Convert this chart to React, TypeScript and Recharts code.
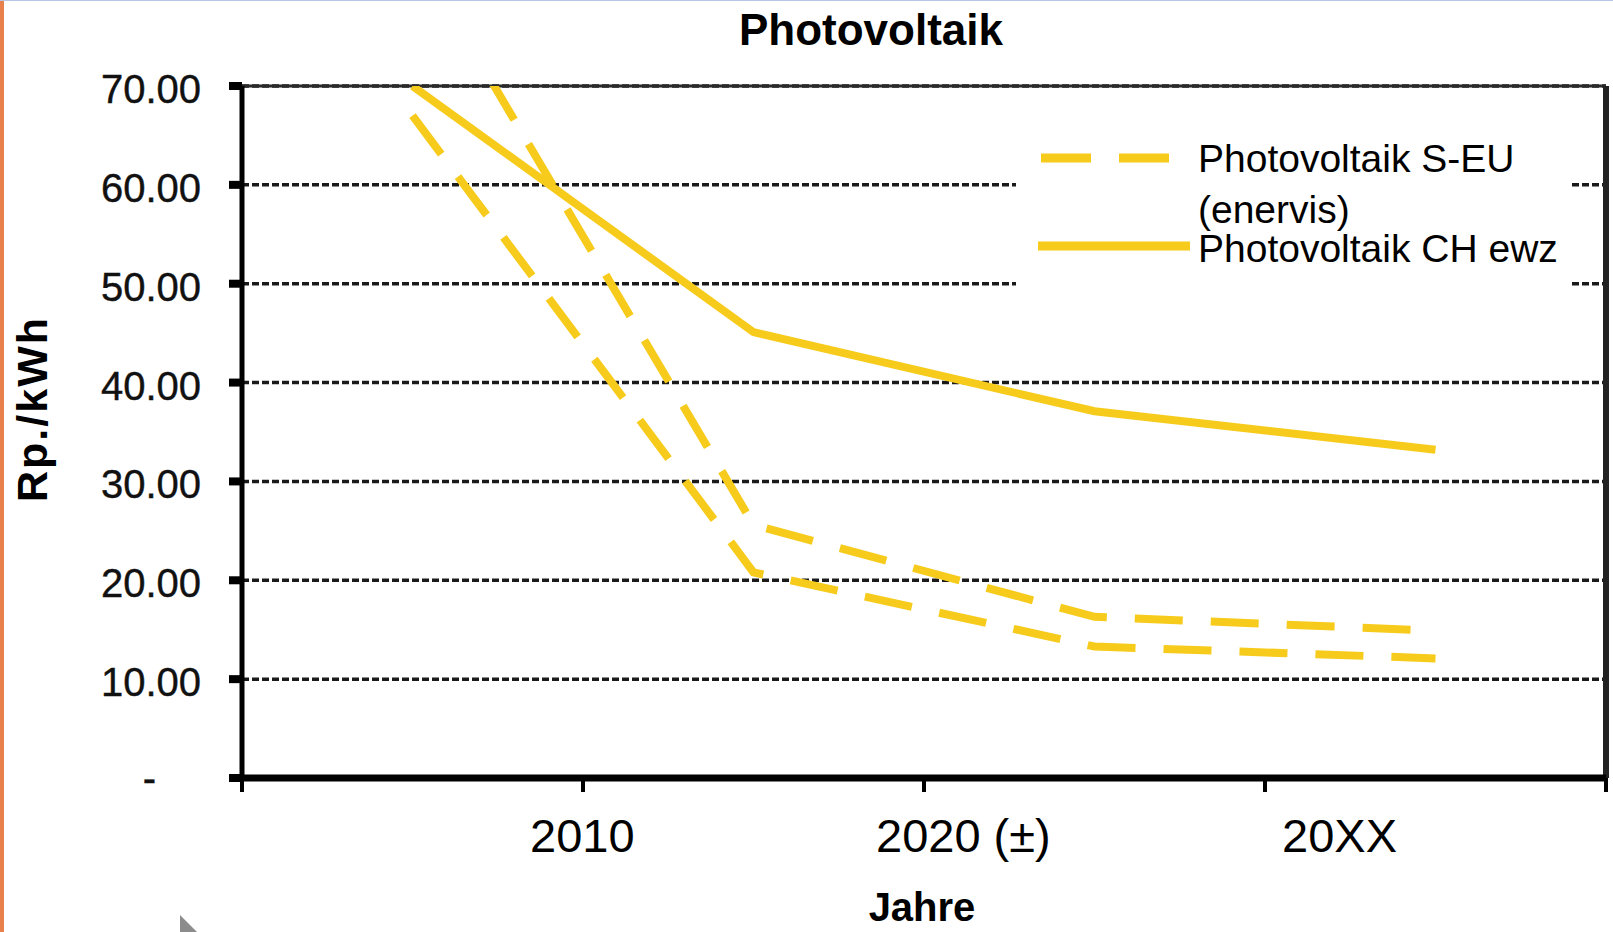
import { LineChart, Line, XAxis, YAxis, CartesianGrid, ReferenceLine, Legend } from "recharts";

// periods along the x axis (drawn at the middle of each slot)
const periodIndex = [0, 1, 2, 3];

// Rp./kWh
const sEuHigh = [84, 25.6, 16.3, 14.9];
const sEuLow = [67, 20.8, 13.3, 12.1];
const chEwz = [70, 45.1, 37.1, 33.2];

const xTickLabels = ["", "2010", "2020 (±)", "20XX", ""];
const xTicks = [0, 1, 2, 3, 4];
const yTicks = [0, 10, 20, 30, 40, 50, 60, 70];

// legend labels, already broken into the lines the original shows
const legendLines = [["Photovoltaik S-EU", "(enervis)"], ["Photovoltaik CH ewz"]];

const YELLOW = "#F7CB1B";
const FONT = '"Liberation Sans", Arial, Helvetica, sans-serif';

const chartData = periodIndex.map((i) => ({
  x: i + 0.5,
  high: sEuHigh[i],
  low: sEuLow[i],
  ch: chEwz[i],
}));

// labels sit a little off their tick marks in the original
const X_LABEL_SHIFT = [0, -53, -48, 17, 0];

function XTick({ x, y, payload }: any) {
  const idx = Math.round(payload.value);
  const label = xTickLabels[idx];
  if (!label) return null;
  return (
    <text
      x={x + X_LABEL_SHIFT[idx]}
      y={y}
      dy={58}
      textAnchor="start"
      fontSize={47}
      fontFamily={FONT}
      fill="#000"
    >
      {label}
    </text>
  );
}

function YTick({ x, y, payload }: any) {
  const v = payload.value;
  const isZero = v === 0;
  return (
    <text
      x={isZero ? x - 45 : x}
      y={y}
      dy={isZero ? 14 : 17}
      textAnchor="end"
      fontSize={40}
      fontFamily={FONT}
      fill="#111"
      stroke="#111"
      strokeWidth={0.4}
    >
      {isZero ? "-" : v.toFixed(2)}
    </text>
  );
}

const LEGEND_ROWS = [
  { sampleLeft: 25, sampleWidth: 132, sampleY: 38, lineTops: [19, 70], dashed: true },
  { sampleLeft: 22, sampleWidth: 152, sampleY: 126, lineTops: [109], dashed: false },
];

function LegendBox() {
  return (
    <div style={{ position: "relative", width: 553, height: 190, fontFamily: FONT }}>
      {legendLines.map((lines, i) => {
        const row = LEGEND_ROWS[i];
        return (
          <div key={lines[0]}>
            <svg
              width={row.sampleWidth}
              height={12}
              style={{ position: "absolute", left: row.sampleLeft, top: row.sampleY - 6 }}
            >
              <line
                x1={0}
                y1={6}
                x2={row.sampleWidth}
                y2={6}
                stroke={YELLOW}
                strokeWidth={9}
                strokeDasharray={row.dashed ? "50 28" : undefined}
              />
            </svg>
            {lines.map((text, j) => (
              <div
                key={text}
                style={{
                  position: "absolute",
                  left: 182,
                  top: row.lineTops[j],
                  whiteSpace: "nowrap",
                  fontSize: 39,
                  lineHeight: "39px",
                  color: "#000",
                }}
              >
                {text}
              </div>
            ))}
          </div>
        );
      })}
    </div>
  );
}

export default function App() {
  return (
    <div
      style={{
        position: "absolute",
        left: 0,
        top: 0,
        width: 1613,
        height: 932,
        background: "#fff",
        overflow: "hidden",
        fontFamily: FONT,
      }}
    >
      <LineChart
        width={1613}
        height={932}
        data={chartData}
        margin={{ top: 86, right: 7, bottom: 0, left: 0 }}
      >
        <CartesianGrid vertical={false} stroke="#1a1a1a" strokeWidth={3.5} strokeDasharray="7 3" />
        <XAxis
          type="number"
          dataKey="x"
          domain={[0, 4]}
          ticks={xTicks}
          interval={0}
          height={154}
          tickSize={14}
          tick={<XTick />}
          axisLine={{ stroke: "#000", strokeWidth: 7 }}
          tickLine={{ stroke: "#000", strokeWidth: 4 }}
        />
        <YAxis
          type="number"
          domain={[0, 70]}
          ticks={yTicks}
          interval={0}
          allowDataOverflow
          width={242}
          tickSize={13}
          tickMargin={28}
          tick={<YTick />}
          axisLine={{ stroke: "#000", strokeWidth: 5 }}
          tickLine={{ stroke: "#000", strokeWidth: 8 }}
        />
        <ReferenceLine y={70} stroke="#2a2a2a" strokeWidth={3} />
        <ReferenceLine x={4} stroke="#222" strokeWidth={6} />
        <Line
          type="linear"
          dataKey="high"
          name="Photovoltaik S-EU (enervis)"
          stroke={YELLOW}
          strokeWidth={8}
          strokeDasharray="48 28"
          dot={false}
          activeDot={false}
          isAnimationActive={false}
        />
        <Line
          type="linear"
          dataKey="low"
          name="Photovoltaik S-EU (enervis), low"
          legendType="none"
          stroke={YELLOW}
          strokeWidth={8}
          strokeDasharray="48 28"
          dot={false}
          activeDot={false}
          isAnimationActive={false}
        />
        <Line
          type="linear"
          dataKey="ch"
          name="Photovoltaik CH ewz"
          stroke={YELLOW}
          strokeWidth={8}
          dot={false}
          activeDot={false}
          isAnimationActive={false}
        />
        <Legend
          layout="horizontal"
          verticalAlign="middle"
          align="center"
          wrapperStyle={{ left: 1016, top: 120, width: 553, height: 190, background: "#fff" }}
          content={<LegendBox />}
        />
      </LineChart>

      {/* title and axis titles */}
      <div
        style={{
          position: "absolute",
          left: 571,
          top: 5,
          width: 600,
          textAlign: "center",
          fontSize: 44,
          fontWeight: "bold",
          lineHeight: "50px",
          color: "#000",
        }}
      >
        Photovoltaik
      </div>
      <div
        style={{
          position: "absolute",
          left: -118,
          top: 384,
          width: 300,
          height: 50,
          textAlign: "center",
          fontSize: 43,
          fontWeight: "bold",
          lineHeight: "50px",
          letterSpacing: 2,
          transform: "rotate(-90deg)",
          color: "#000",
        }}
      >
        Rp./kWh
      </div>
      <div
        style={{
          position: "absolute",
          left: 822,
          top: 884,
          width: 200,
          textAlign: "center",
          fontSize: 40,
          fontWeight: "bold",
          lineHeight: "46px",
          color: "#000",
        }}
      >
        Jahre
      </div>

      {/* slide decoration */}
      <div style={{ position: "absolute", left: 0, top: 0, width: 4, height: 932, background: "#E8814B" }} />
      <div style={{ position: "absolute", left: 0, top: 0, width: 1613, height: 1, background: "#B4C7E7" }} />
      <svg width={20} height={17} style={{ position: "absolute", left: 180, top: 915 }}>
        <polygon points="0,0 17,17 0,17" fill="#8c8c8c" />
      </svg>
    </div>
  );
}
